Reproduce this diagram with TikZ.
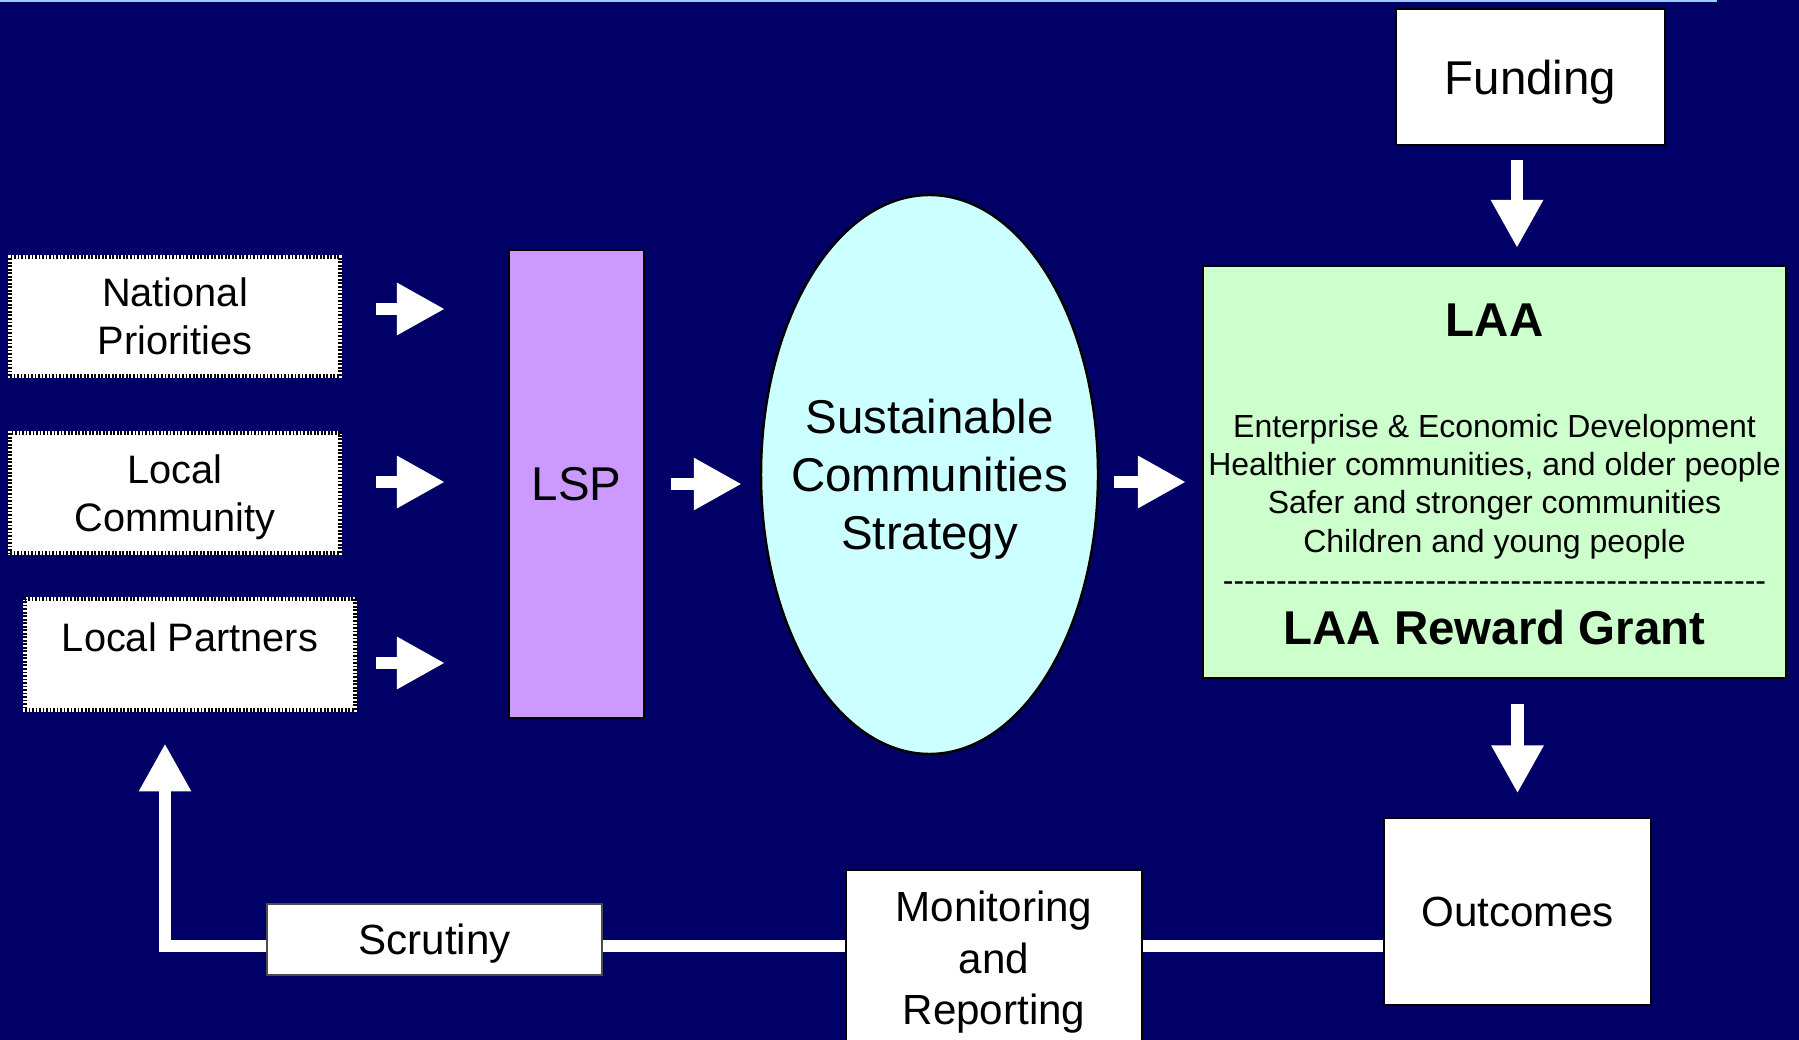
\documentclass[tikz,border=0pt]{standalone}
\usepackage{fontspec}
\setmainfont{Liberation Sans}
\usepackage{xcolor}
\usepackage{tikz}
\usetikzlibrary{arrows.meta, positioning, shapes.geometric}

\definecolor{slidebg}{HTML}{000066}
\definecolor{slideline}{HTML}{99CCFF}
\definecolor{lspfill}{HTML}{CC99FF}
\definecolor{scsfill}{HTML}{CCFFFF}
\definecolor{laafill}{HTML}{CCFFCC}

\begin{document}
\begin{tikzpicture}[
    every node/.style={text depth=0pt},
    srcbox/.style={rectangle, draw=white, line width=1.4pt, fill=white, minimum width=3.30cm, minimum height=1.20cm, inner sep=0pt, align=center, font=\fontsize{11.3}{13.7}\selectfont, postaction={draw=black, line width=0.9pt, dash pattern=on 0.5pt off 0.5pt}},
    plainbox/.style={rectangle, draw=black, line width=0.35pt, fill=white, inner sep=0pt, align=center, font=\fontsize{12}{14.7}\selectfont},
    bigfont/.style={font=\fontsize{13.5}{16.5}\selectfont},
    itemfont/.style={font=\fontsize{9.1}{10.9}\selectfont},
    titlefont/.style={font=\bfseries\fontsize{13.5}{16.5}\selectfont},
    blockarrow/.style={white, line width=0.123cm, -{Triangle[length=0.48cm, width=0.49cm]}},
    feedline/.style={white, line width=0.125cm}
]
    \useasboundingbox (0,0) rectangle (17.99,-10.40);
    \clip (0,0) rectangle (17.99,-10.40);
    \fill[slidebg] (0,0) rectangle (17.99,-10.40);
    \fill[slideline] (0,0) rectangle (17.17,-0.025);

    % inputs
    \node[srcbox, minimum height=1.19cm] (natl) at (1.75,-3.165) {National\\Priorities};
    \node[srcbox] (community) at (1.75,-4.93) {Local\\Community};
    \node[srcbox, minimum height=1.11cm] (partners) at (1.90,-6.545) {Local Partners\\[-3.7pt]\mbox{}};

    \node[rectangle, draw=black, line width=0.6pt, fill=lspfill, minimum width=1.35cm, minimum height=4.68cm, inner sep=0pt, bigfont] (lsp) at (5.765,-4.84) {LSP};
    \node[ellipse, draw=black, line width=0.7pt, fill=scsfill, minimum width=3.37cm, minimum height=5.59cm, inner ysep=0pt, inner xsep=-0.3cm, align=center, bigfont] (scs) at (9.295,-4.745) {Sustainable\\Communities\\Strategy};

    % LAA block
    \node[rectangle, draw=black, line width=0.6pt, fill=laafill, minimum width=5.83cm, minimum height=4.12cm] (laa) at (14.945,-4.72) {};
    \node[titlefont] (laatitle) at (14.945,-3.20) {LAA};
    \node[itemfont, align=center] (laaitems) at (14.945,-4.83) {Enterprise \& Economic Development\\Healthier communities, and older people\\Safer and stronger communities\\Children and young people};
    \node[itemfont, inner sep=0pt] (laarule) at (14.945,-5.87) {\foreach \i in {1,...,51}{\mbox{-}}};
    \node[titlefont] (laagrant) at (14.945,-6.275) {LAA Reward Grant};

    \node[plainbox, line width=0.75pt, minimum width=2.69cm, minimum height=1.36cm, bigfont] (funding) at (15.305,-0.77) {Funding};
    \node[plainbox, minimum width=2.67cm, minimum height=1.87cm] (outcomes) at (15.175,-9.115) {Outcomes};
    \node[plainbox, minimum width=2.96cm, minimum height=1.76cm] (monitor) at (9.94,-9.58) {Monitoring\\and\\Reporting};
    \node[plainbox, draw=gray!60!black, minimum width=3.35cm, minimum height=0.71cm] (scrutiny) at (4.345,-9.395) {Scrutiny};

    % forward arrows
    \draw[blockarrow, shorten <=0.34cm, shorten >=0.63cm] ([yshift=0.075cm]natl.east) -- ([yshift=0.075cm]natl.east -| lsp.west);
    \draw[blockarrow, shorten <=0.34cm, shorten >=0.63cm] ([yshift=0.11cm]community.east) -- ([yshift=0.11cm]community.east -| lsp.west);
    \draw[blockarrow, shorten <=0.19cm, shorten >=0.63cm] ([yshift=-0.085cm]partners.east) -- ([yshift=-0.085cm]partners.east -| lsp.west);
    \draw[blockarrow, shorten <=0.26cm, shorten >=0.18cm] (lsp.east) -- (lsp.east -| scs.west);
    \draw[blockarrow, shorten <=0.15cm, shorten >=0.16cm] ([yshift=-0.075cm]scs.east) -- ([yshift=-0.075cm]scs.east -| laa.west);
    \draw[blockarrow, shorten <=0.14cm, shorten >=0.17cm] ([xshift=-0.135cm]funding.south) -- ([xshift=-0.135cm]funding.south |- laa.north);
    \draw[blockarrow, shorten <=0.25cm, shorten >=0.24cm] (outcomes.north |- laa.south) -- (outcomes.north);

    % feedback loop
    \coordinate (corner) at (1.65,-9.46);
    \draw[feedline] (outcomes.west |- corner) -- (monitor.east |- corner);
    \draw[feedline] (monitor.west |- corner) -- (scrutiny.east |- corner);
    \draw[blockarrow, shorten >=0.31cm] (scrutiny.west |- corner) -- (corner) -- (corner |- partners.south);
\end{tikzpicture}
\end{document}
